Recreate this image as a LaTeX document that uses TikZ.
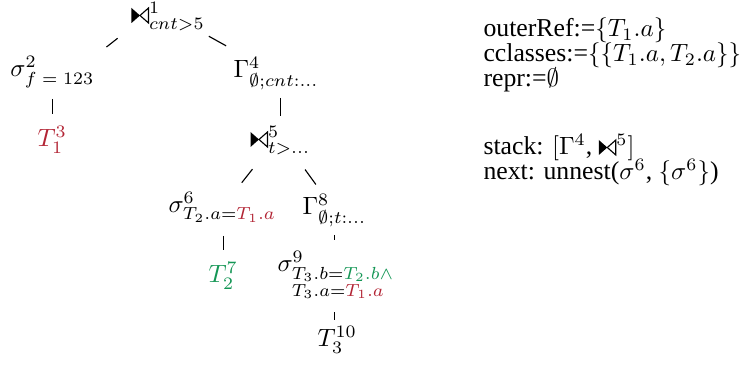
\documentclass[tikz,border=0pt]{standalone}
\usepackage{amsmath}
\usepackage{fontspec}
\setmainfont{Liberation Serif}
\usepackage{xcolor}
\usetikzlibrary{positioning,calc}

\definecolor{relred}{RGB}{178,36,52}
\definecolor{relgreen}{RGB}{20,150,85}

% left-half-black bowtie
\newcommand{\lsjoin}{\mathord{\tikz[baseline=0pt]{%
  \fill (0,0) -- (0,6pt) -- (3.4pt,3pt) -- cycle;
  \draw[line width=0.45pt, line join=miter] (3.4pt,3pt) -- (6.8pt,6pt) -- (6.8pt,0) -- cycle;}}}

\begin{document}
\begin{tikzpicture}[
  x=0.4pt, y=-0.4pt,
  op/.style={inner sep=0pt, anchor=base west},
  info/.style={inner sep=0pt, anchor=base west, font=\fontsize{10.3}{12}\selectfont},
  edge/.style={line width=0.45pt}
]
\useasboundingbox (0,0) rectangle (741,365);

% plan tree
\node[op] (j1) at (131,23) {$\lsjoin^1_{cnt>5}$};
\node[op] (s2) at (10,77) {$\sigma^2_{f\;=\;123}$};
\node[op] (g4) at (233,78) {$\Gamma^4_{\emptyset;cnt:\ldots}$};
\node[op, text=relred] (t3) at (37,147) {$T_1^3$};
\node[op] (j5) at (250,147) {$\lsjoin^5_{t>\ldots}$};
\node[op] (s6) at (168,213) {$\sigma^6_{T_2.a=\textcolor{relred}{T_1.a}}$};
\node[op] (g8) at (302,215) {$\Gamma^8_{\emptyset;t:\ldots}$};
\node[op, text=relgreen] (t7) at (208,283) {$T_2^7$};
\node[op] (s9) at (277,272) {$\sigma^9_{\begin{subarray}{l}T_3.b=\textcolor{relgreen}{T_2.b\wedge}\\ T_3.a=\textcolor{relred}{T_1.a}\end{subarray}}$};
\node[op] (t10) at (317,347) {$T_3^{10}$};

\draw[edge, shorten <=6.8pt, shorten >=5.9pt] (j1.197) -- (s2.north east);
\draw[edge, shorten <=4.3pt, shorten >=9.3pt] (j1.-25) -- (g4.151);
\draw[edge, shorten <=4.4pt, shorten >=4.8pt] (s2.south -| t3) -- (t3.north);
\draw[edge, shorten <=3.2pt, shorten >=4pt] (g4.south -| j5) -- (j5.north);
\draw[edge, shorten <=7.2pt, shorten >=4.8pt] (j5.221) -- (s6.52);
\draw[edge, shorten <=7.2pt, shorten >=4.8pt] (j5.-46) -- (g8.125);
\draw[edge, shorten <=5.2pt, shorten >=4.8pt] (s6.south -| t7) -- (t7.north);
\draw[edge, shorten <=3.2pt, shorten >=4.4pt] (g8.south) -- (g8.south |- s9.north);
\draw[edge, shorten <=5.2pt, shorten >=2.4pt] (g8.south |- s9.south) -- (g8.south |- t10.north);

% state
\node[info] (outer) at (483,37) {outerRef:=$\{T_1.a\}$};
\node[info] (ccls) at (483,62) {cclasses:=$\{\{T_1.a,T_2.a\}\}$};
\node[info] (repr) at (483,87) {repr:=$\emptyset$};
\node[info] (stack) at (483,155) {stack: $[\Gamma^4$, $\lsjoin^5]$};
\node[info] (next) at (483,180) {next: unnest($\sigma^6$, $\{\sigma^6\}$)};
\end{tikzpicture}
\end{document}
